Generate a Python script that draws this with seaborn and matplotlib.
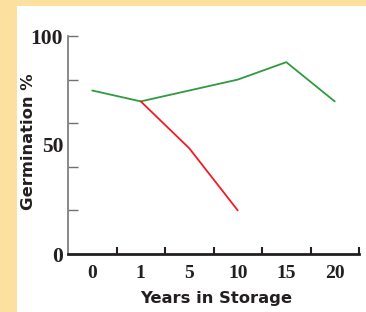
import pandas as pd
import numpy as np
import seaborn as sns
import matplotlib.pyplot as plt
import matplotlib.patches as mpatches

years = ["0", "1", "5", "10", "15", "20"]
green_vals = [75, 70, 75, 80, 88, 70]
red_years = ["1", "5", "10"]
red_vals = [70, 48.5, 20]

sns.set_style("white")

df = pd.concat([
    pd.DataFrame({"year": years, "germ": green_vals, "s": "a"}),
    pd.DataFrame({"year": red_years, "germ": red_vals, "s": "b"}),
])

fig = plt.figure(figsize=(3.66, 3.12), dpi=100)
fig.patch.set_facecolor("#fbe09f")
fig.patches.append(mpatches.Rectangle((17/366, 0), 1, 306/312, transform=fig.transFigure,
                                      facecolor="white", edgecolor="none", zorder=-5))
ax = fig.add_axes([68/366, 58/312, 291/366, 218/312])
ax.set_facecolor("none")
ax.set_zorder(5)

sns.lineplot(data=df, x="year", y="germ", hue="s", palette={"a": "#2f9a3f", "b": "#ee1c25"},
             linewidth=1.3, legend=False, ax=ax, sort=False)

serif = dict(fontfamily="Liberation Serif", fontweight="bold", color="#231f20")
ax.set_xlim(-0.5, 5.5)
ax.set_ylim(0, 100)
ax.set_xticks(np.arange(6))
ax.set_xticklabels(years, fontsize=14, **serif)
ax.set_xticks(np.arange(6) + 0.5, minor=True)
ax.tick_params(axis="x", which="major", length=0, pad=8)
ax.tick_params(axis="x", which="minor", direction="in", length=5, width=1.5, color="#231f20")

ax.set_yticks([0, 20, 40, 60, 80, 100])
ax.set_yticklabels(["0", "", "", "", "", "100"], fontsize=15.5, **serif)
ax.set_yticks([50], minor=True)
ax.set_yticklabels(["50"], minor=True, fontsize=15.5, **serif)
ax.tick_params(axis="y", which="major", direction="in", length=7, width=1, color="#707070", pad=3.5, left=True)
ax.tick_params(axis="y", which="minor", length=0, pad=3.5, left=True)
ax.tick_params(axis="x", which="both", bottom=True)

for s in ["top", "right"]:
    ax.spines[s].set_visible(False)
ax.spines["bottom"].set_color("#231f20")
ax.spines["bottom"].set_linewidth(2)
ax.spines["left"].set_color("#808080")
ax.spines["left"].set_linewidth(1.3)

ax.set_xlabel("Years in Storage", fontsize=11.8, fontweight="bold", color="#231f20")
ax.set_ylabel("Germination %", fontsize=11.8, fontweight="bold", color="#231f20")
ax.xaxis.set_label_coords(0.509, -0.168)
ax.yaxis.set_label_coords(-0.11, 0.514)

fig.savefig("out.png", dpi=100)
